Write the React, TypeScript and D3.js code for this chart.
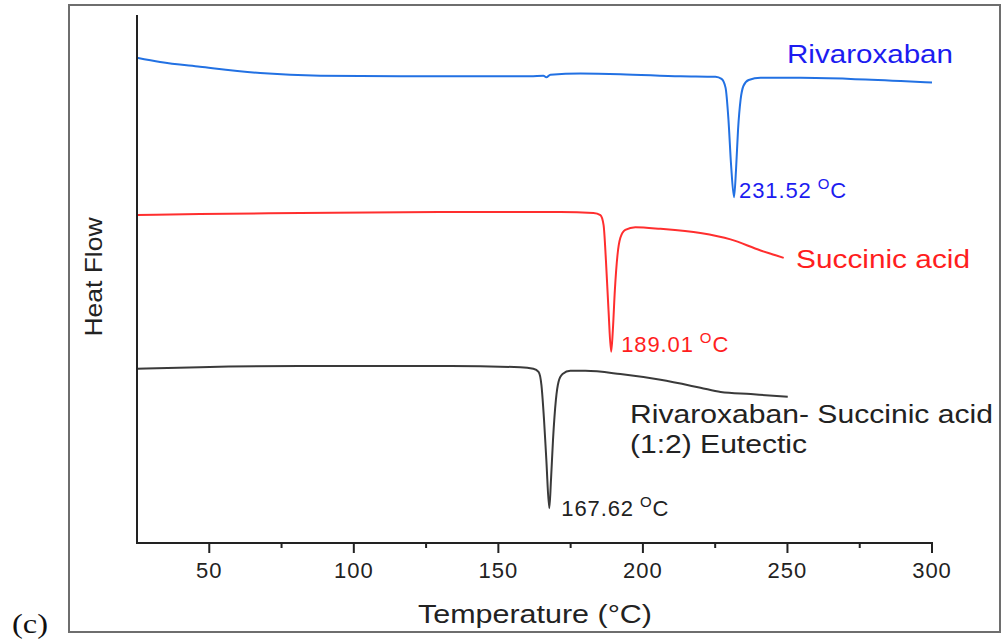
import React from 'react';
import * as d3 from 'd3';

// DSC thermograms: temperature (°C) vs. heat flow (arbitrary units, offset per trace)
const rivaroxabanTemp = [25.0, 33.0, 46.8, 67.6, 88.4, 116.1, 143.8, 161.1, 165.6, 166.6, 168.0, 178.4, 192.2, 213.0, 225.1, 227.2, 228.6, 229.6, 230.5, 231.52, 232.2, 232.9, 233.8, 234.8, 236.6, 240.7, 254.6, 271.9, 289.2, 300.0];
const rivaroxabanHeat = [91.9, 91.1, 90.2, 89.0, 88.5, 88.4, 88.4, 88.4, 88.5, 88.2, 88.7, 88.9, 88.8, 88.4, 88.3, 87.9, 86.2, 80.1, 71.6, 65.5, 70.6, 78.2, 84.0, 86.6, 87.7, 88.1, 88.1, 87.9, 87.5, 87.2];

const succinicTemp = [25.0, 46.8, 81.4, 133.4, 171.5, 182.9, 185.3, 186.4, 187.2, 188.1, 189.01, 189.6, 190.3, 191.2, 192.2, 193.9, 197.4, 206.1, 219.9, 230.3, 240.7, 245.9, 248.7];
const succinicHeat = [62.1, 62.3, 62.5, 62.7, 62.7, 62.5, 62.1, 60.2, 53.6, 44.1, 36.2, 40.3, 47.9, 54.5, 57.8, 59.3, 59.8, 59.5, 58.7, 57.5, 55.4, 54.5, 54.0];

const eutecticTemp = [25.0, 46.8, 81.4, 133.4, 157.6, 162.1, 163.9, 164.9, 165.8, 166.6, 167.62, 168.2, 168.9, 169.9, 170.8, 172.2, 174.9, 180.1, 192.2, 206.1, 219.9, 226.9, 237.3, 250.1];
const eutecticHeat = [33.0, 33.3, 33.5, 33.5, 33.3, 33.0, 32.4, 29.9, 23.3, 15.7, 6.6, 11.9, 19.5, 27.1, 30.5, 32.0, 32.6, 32.6, 32.0, 30.9, 29.4, 28.6, 28.2, 27.7];

const majorTicks = [50, 100, 150, 200, 250, 300];
const minorTicks = [75, 125, 175, 225, 275];

const peakLabels = ['231.52', '189.01', '167.62'];

type Pt = [number, number];
const zip = (t: number[], h: number[]): Pt[] => t.map((v, i) => [v, h[i]]);

export default function App() {
  const x = d3.scaleLinear().domain([25, 300]).range([137, 932]);
  const y = d3.scaleLinear().domain([0, 100]).range([543, 15]);
  const line = d3
    .line<Pt>()
    .x((d) => x(d[0]))
    .y((d) => y(d[1]))
    .curve(d3.curveMonotoneX);

  const riva = zip(rivaroxabanTemp, rivaroxabanHeat);
  const succ = zip(succinicTemp, succinicHeat);
  const eut = zip(eutecticTemp, eutecticHeat);

  const peak = (pts: Pt[]) => pts.reduce((a, b) => (b[1] < a[1] ? b : a));
  const pR = peak(riva);
  const pS = peak(succ);
  const pE = peak(eut);

  const sans = 'Liberation Sans, Arial, sans-serif';
  const blueLine = '#2271e3';
  const blueText = '#1c1cf0';
  const redLine = '#ff2e2e';
  const redText = '#ff1e1e';
  const darkLine = '#3a3a3a';
  const darkText = '#222';

  const x0 = x.range()[0];
  const x1 = x.range()[1];
  const yb = y.range()[0];
  const yt = y.range()[1];

  const PeakLabel = ({ p, dx, dy, text, color }: { p: Pt; dx: number; dy: number; text: string; color: string }) => (
    <text x={x(p[0]) + dx} y={y(p[1]) + dy} fontFamily={sans} fontSize={22} fill={color} letterSpacing={0.9}>
      {text}
      <tspan dx={6} dy={-9} fontSize={15}>O</tspan>
      <tspan dy={9}>C</tspan>
    </text>
  );

  return (
    <svg
      width={1002}
      height={640}
      style={{ position: 'absolute', left: 0, top: 0, background: '#fff' }}
    >
      <rect x={0} y={0} width={1002} height={640} fill="#fff" />
      {/* panel frame */}
      <rect x={69} y={5} width={931} height={627} fill="none" stroke="#6e6e6e" strokeWidth={2} />
      <text x={12} y={633} fontFamily="Liberation Serif, Times New Roman, serif" fontSize={27} fill="#111" textLength={36} lengthAdjust="spacingAndGlyphs">
        (c)
      </text>

      {/* traces */}
      <path d={line(riva) ?? ''} fill="none" stroke={blueLine} strokeWidth={2} />
      <path d={line(succ) ?? ''} fill="none" stroke={redLine} strokeWidth={2} />
      <path d={line(eut) ?? ''} fill="none" stroke={darkLine} strokeWidth={2} />

      {/* axes */}
      <line x1={x0} x2={x0} y1={yt} y2={yb + 1} stroke="#222" strokeWidth={2} />
      <line x1={x0 - 1} x2={x1 + 1} y1={yb} y2={yb} stroke="#222" strokeWidth={2} />
      {majorTicks.map((t) => (
        <g key={t}>
          <line x1={x(t)} x2={x(t)} y1={yb} y2={yb + 10} stroke="#222" strokeWidth={2} />
          <text x={x(t)} y={578} textAnchor="middle" fontFamily={sans} fontSize={22} fill={darkText} letterSpacing={1}>
            {t}
          </text>
        </g>
      ))}
      {minorTicks.map((t) => (
        <line key={t} x1={x(t)} x2={x(t)} y1={yb} y2={yb + 5} stroke="#222" strokeWidth={2} />
      ))}

      <text x={535} y={623} textAnchor="middle" fontFamily={sans} fontSize={25} fill={darkText} textLength={234} lengthAdjust="spacingAndGlyphs">
        Temperature (°C)
      </text>
      <text
        transform="translate(102,277) rotate(-90)"
        textAnchor="middle"
        fontFamily={sans}
        fontSize={24}
        fill={darkText}
        textLength={119}
        lengthAdjust="spacingAndGlyphs"
      >
        Heat Flow
      </text>

      {/* trace names */}
      <text x={787} y={63} fontFamily={sans} fontSize={25} fill={blueText} textLength={166} lengthAdjust="spacingAndGlyphs">
        Rivaroxaban
      </text>
      <text x={796} y={268} fontFamily={sans} fontSize={26} fill={redText} textLength={174} lengthAdjust="spacingAndGlyphs">
        Succinic acid
      </text>
      <text x={630} y={423} fontFamily={sans} fontSize={26} fill={darkText} textLength={363} lengthAdjust="spacingAndGlyphs">
        Rivaroxaban- Succinic acid
      </text>
      <text x={630} y={453} fontFamily={sans} fontSize={26} fill={darkText} textLength={177} lengthAdjust="spacingAndGlyphs">
        (1:2) Eutectic
      </text>

      {/* melting peaks */}
      <PeakLabel p={pR} dx={5} dy={1} text={peakLabels[0]} color={blueText} />
      <PeakLabel p={pS} dx={10} dy={0} text={peakLabels[1]} color={redText} />
      <PeakLabel p={pE} dx={12} dy={8} text={peakLabels[2]} color={darkText} />
    </svg>
  );
}
